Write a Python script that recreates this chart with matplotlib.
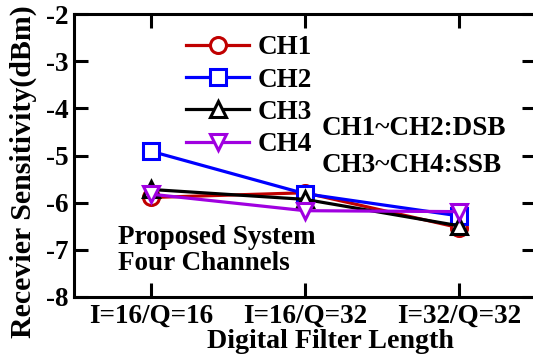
import matplotlib
matplotlib.use("Agg")
import matplotlib.pyplot as plt

categories = ["I=16/Q=16", "I=16/Q=32", "I=32/Q=32"]
ch1 = [-5.89, -5.79, -6.53]
ch2 = [-4.91, -5.81, -6.28]
ch3 = [-5.72, -5.93, -6.49]
ch4 = [-5.82, -6.17, -6.19]
yticks = [-8, -7, -6, -5, -4, -3, -2]

plt.rcParams['font.family'] = ['Liberation Serif']
plt.rcParams['font.weight'] = 'bold'

fs = 19.5
fig = plt.figure(figsize=(5.33, 3.58), dpi=100)
ax = fig.add_axes([74/533, 1 - 297/358, (536 - 74)/533, (297 - 14)/358])

x = list(range(len(categories)))
series = [("CH1", ch1, "#c00000", "o"),
          ("CH2", ch2, "#0000ff", "s"),
          ("CH3", ch3, "#000000", "^"),
          ("CH4", ch4, "#a000e0", "v")]
for name, vals, col, mk in series:
    ax.plot(x, vals, color=col, lw=2.3, marker=mk, ms=11.5, mfc="white",
            mec=col, mew=2.2, label=name)

ax.set_xlim(-0.5, 2.5)
ax.set_ylim(-8, -2)
ax.set_xticks(x)
ax.set_xticklabels(categories, fontsize=fs, fontweight='bold')
ax.set_yticks(yticks)
ax.set_yticklabels([str(v) for v in yticks], fontsize=fs, fontweight='bold')
ax.tick_params(axis='both', direction='in', width=2.2, length=10, pad=4)
ax.tick_params(axis='x', pad=5)
ax.tick_params(axis='y', right=True, left=True)
ax.tick_params(axis='x', top=True)
for s in ax.spines.values():
    s.set_linewidth(2.2)

ax.set_xlabel("Digital Filter Length", fontsize=20.2, fontweight='bold')
ax.xaxis.set_label_coords(0.554, -0.112)
ax.set_ylabel("Recevier Sensitivity(dBm)", fontsize=21.5, fontweight='bold')
ax.yaxis.set_label_coords(-0.08, 0.442)

leg = ax.legend(loc='upper left', bbox_to_anchor=(0.242, 0.925), frameon=False,
                prop={'size': fs, 'weight': 'bold'}, handlelength=2.35,
                labelspacing=0.27, borderaxespad=0, handletextpad=0.3,
                borderpad=0)

ax.text(0.536, 0.594, "CH1~CH2:DSB", transform=ax.transAxes, fontsize=fs,
        fontweight='bold', va='center', ha='left')
ax.text(0.536, 0.464, "CH3~CH4:SSB", transform=ax.transAxes, fontsize=fs,
        fontweight='bold', va='center', ha='left')
ax.text(0.095, 0.21, "Proposed System", transform=ax.transAxes, fontsize=fs,
        fontweight='bold', va='center', ha='left')
ax.text(0.095, 0.118, "Four Channels", transform=ax.transAxes, fontsize=fs,
        fontweight='bold', va='center', ha='left')

fig.savefig("out.png", dpi=100)
